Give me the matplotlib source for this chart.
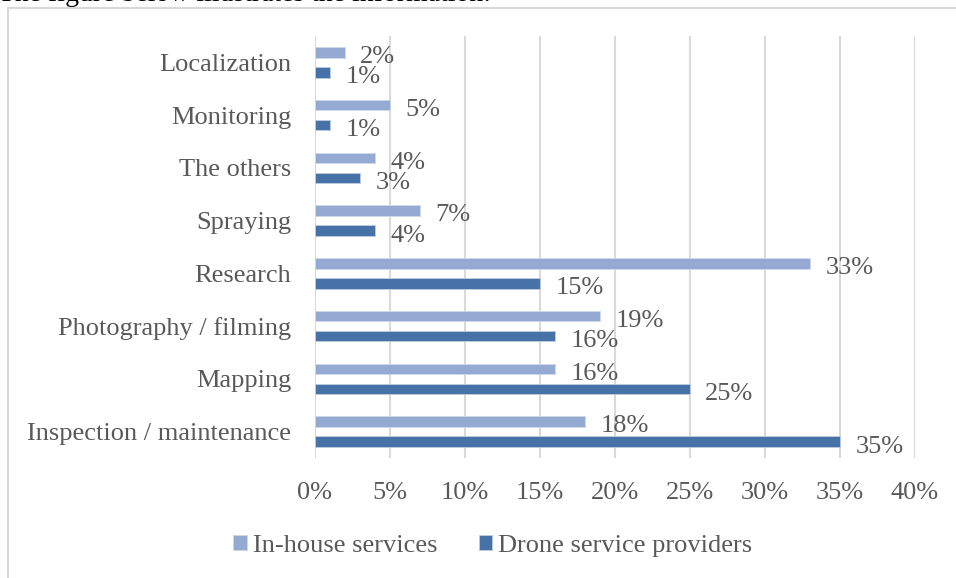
import matplotlib.pyplot as plt
from matplotlib.lines import Line2D

categories = ['Localization', 'Monitoring', 'The others', 'Spraying', 'Research',
              'Photography / filming', 'Mapping', 'Inspection / maintenance']
in_house = [2, 5, 4, 7, 33, 19, 16, 18]
drone = [1, 1, 3, 4, 15, 16, 25, 35]
xticks = [0, 5, 10, 15, 20, 25, 30, 35, 40]

light = '#94aad3'
dark = '#4672a8'
grey = '#595959'

plt.rcParams['font.family'] = ['Liberation Serif', 'DejaVu Serif']

fig = plt.figure(figsize=(9.56, 5.78), dpi=100)
ax = fig.add_axes([315/956, 1-458/578, 600/956, 422/578])

n = len(categories)
pos = [n - 1 - i for i in range(n)]
h = 0.2
off = 0.19
ax.barh([p + off for p in pos], in_house, height=h, color=light, edgecolor='#d0d8e8', linewidth=0.6,
        label='In-house services', zorder=3)
ax.barh([p - off for p in pos], drone, height=h, color=dark, edgecolor='#c0cde0', linewidth=0.6,
        label='Drone service providers', zorder=3)

for p, v in zip(pos, in_house):
    ax.annotate(f'{v}%', (v, p + off), xytext=(11, -3.5), textcoords='offset points',
                va='center', ha='left', fontsize=19, color=grey)
for p, v in zip(pos, drone):
    ax.annotate(f'{v}%', (v, p - off), xytext=(11, -3.5), textcoords='offset points',
                va='center', ha='left', fontsize=19, color=grey)

ax.set_xlim(0, 40)
ax.set_ylim(-0.5, n - 0.5)
ax.set_xticks(xticks)
ax.set_xticklabels([f'{t}%' for t in xticks])
ax.set_yticks(pos)
ax.set_yticklabels(categories)
ax.tick_params(axis='x', length=0, pad=17, labelsize=19, labelcolor=grey)
ax.tick_params(axis='y', length=0, pad=17, labelsize=19, labelcolor=grey)
ax.grid(axis='x', color='#d9d9d9', linewidth=1.5, zorder=0)
for s in ax.spines.values():
    s.set_visible(False)

ax.legend(loc='center', bbox_to_anchor=(493/956, 1-546/578), bbox_transform=fig.transFigure,
          ncol=2, frameon=False, fontsize=19, labelcolor=grey, handlelength=0.5, handleheight=0.5,
          handletextpad=0.25, columnspacing=1.55)

# frame around the chart and the cut-off sentence above it
fig.add_artist(Line2D([8/956, 8/956], [0, 1-8/578], color='#d9d9d9', linewidth=1.5))
fig.add_artist(Line2D([8/956, 1], [1-8/578, 1-8/578], color='#d9d9d9', linewidth=1.5))
fig.text(-2/956, 1-1/578, 'The figure below illustrates the information:', fontsize=20,
         color='black', va='baseline', ha='left')

fig.savefig('out.png', dpi=100)
